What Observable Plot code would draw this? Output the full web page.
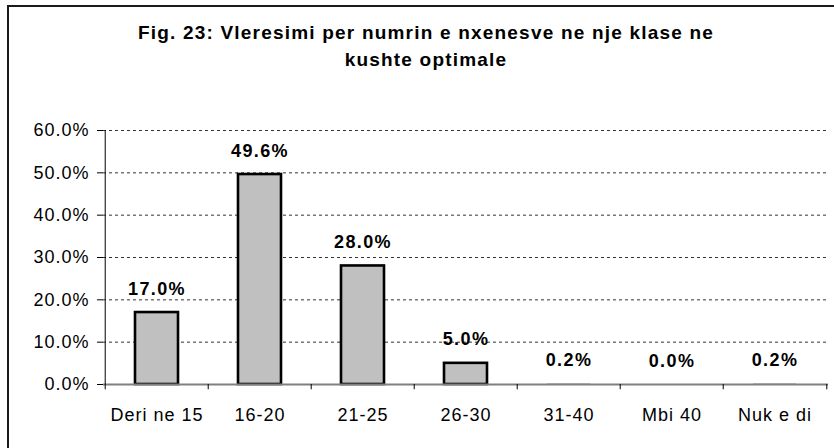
<!DOCTYPE html>
<html>
<head>
<meta charset="utf-8">
<script src="https://cdn.jsdelivr.net/npm/d3@7"></script>
<script src="https://cdn.jsdelivr.net/npm/@observablehq/plot@0.6"></script>
<style>
  html, body { margin: 0; padding: 0; background: #fff; overflow: hidden; }
  #wrap { position: relative; width: 834px; height: 448px; font-family: Arial, "Liberation Sans", sans-serif; }
  #frame { position: absolute; left: 7px; top: 5px; width: 860px; height: 470px; border: 2px solid #1a1a1a; box-sizing: border-box; pointer-events: none; }
  #title { position: absolute; left: 8px; top: 19px; width: 836px; text-align: center; font-weight: bold; font-size: 19px; line-height: 27px; letter-spacing: 1.2px; color: #000; }
  #chart { position: absolute; left: 0; top: 90px; }
  #chart svg g[aria-label="y-axis tick label"] text,
  #chart svg g[aria-label="x-axis tick label"] text { letter-spacing: 1px; }
  #chart svg g[aria-label="text"] text { letter-spacing: 1.4px; }
</style>
</head>
<body>
<div id="wrap">
  <div id="frame"></div>
  <div id="title">Fig. 23: Vleresimi per numrin e nxenesve ne nje klase ne<br>kushte optimale</div>
  <div id="chart"></div>
</div>
<script>
const categories = ["Deri ne 15", "16-20", "21-25", "26-30", "31-40", "Mbi 40", "Nuk e di"];
const values = [17.0, 49.6, 28.0, 5.0, 0.2, 0.0, 0.2];
const yTicks = [0, 10, 20, 30, 40, 50, 60];

const data = categories.map((c, i) => ({ cat: c, value: values[i] }));

const W = 834, H = 358, ML = 103, MR = 6, MT = 40, MB = 64;
const bw = (W - ML - MR) / categories.length;
const pct = d => d.toFixed(1) + "%";

const chart = Plot.plot({
  width: W, height: H,
  marginLeft: ML, marginRight: MR, marginTop: MT, marginBottom: MB,
  style: { fontFamily: "Arial, 'Liberation Sans', sans-serif", color: "#000", background: "transparent" },
  x: { domain: categories, padding: 0, axis: null },
  y: { domain: [0, 60], axis: null },
  marks: [
    Plot.gridY(yTicks.slice(1), { stroke: "#333", strokeOpacity: 1, strokeWidth: 1, strokeDasharray: "3,3" }),
    Plot.barY(data, { x: "cat", y: "value", fill: "#c0c0c0", stroke: d => d.value < 1 ? "none" : "#000", strokeWidth: 2.6, insetLeft: 30, insetRight: 30 }),
    Plot.ruleY([0], { stroke: "#808080", strokeWidth: 2 }),
    Plot.ruleX([categories[0]], { x: d => d, dx: -bw / 2, y1: 0, y2: 60, stroke: "#000", strokeWidth: 1 }),
    Plot.ruleX(categories, { x: d => d, dx: -bw / 2, y1: 0, y2: -1.25, stroke: "#000", strokeWidth: 1 }),
    Plot.ruleX([categories[categories.length - 1]], { x: d => d, dx: bw / 2, y1: 0, y2: -1.25, stroke: "#000", strokeWidth: 1 }),
    Plot.axisY({ ticks: yTicks, tickFormat: pct, tickSize: 6, tickPadding: 8, fontSize: 18, label: null, stroke: "#000" }),
    Plot.axisX({ tickSize: 0, tickPadding: 24, fontSize: 18, label: null }),
    Plot.text(data, { x: "cat", y: "value", text: d => pct(d.value), lineAnchor: "bottom", dy: -18, fontSize: 18, fontWeight: "bold", fill: "#000" })
  ]
});
document.getElementById("chart").appendChild(chart);
</script>
</body>
</html>
